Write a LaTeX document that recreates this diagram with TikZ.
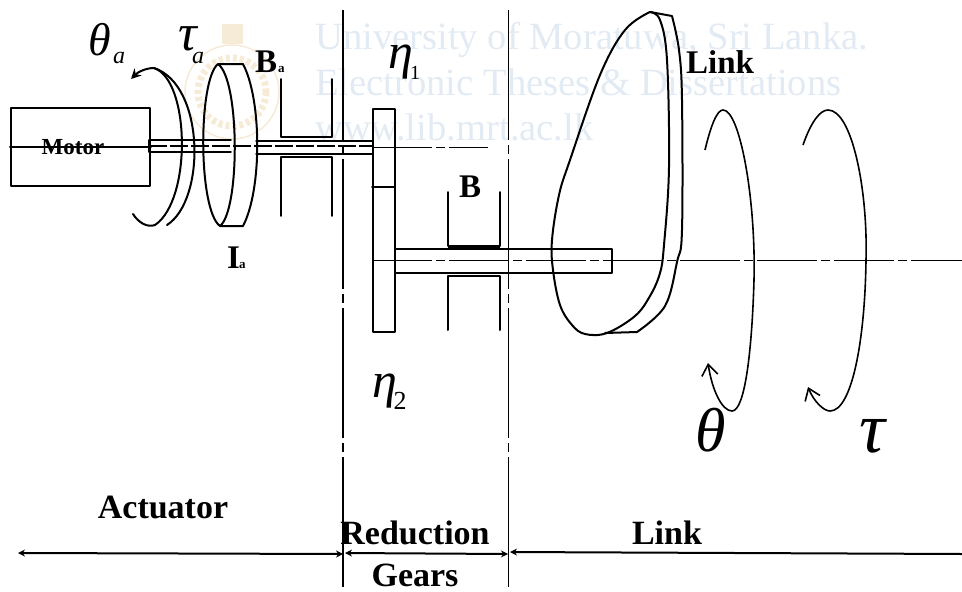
\documentclass[tikz,border=0pt]{standalone}
\usepackage{fontspec}
\setmainfont{Liberation Serif}
\usetikzlibrary{arrows.meta}
\definecolor{wm}{HTML}{E2EAF3}
\definecolor{logo}{HTML}{F6EBD6}
\tikzset{
  x=1pt,y=-1pt,
  ln/.style={black,line width=2pt,line cap=round,line join=round},
  cen/.style={black,line width=1pt,dash pattern=on 60pt off 4pt on 9pt off 4pt},
  divider/.style={black,line width=1.4pt,dash pattern=on 130pt off 5pt on 9pt off 5pt},
  span/.style={black,line width=2pt,{Stealth[length=7pt,width=7pt]}-{Stealth[length=7pt,width=7pt]}},
  turn/.style={black,line width=1.6pt,-{Straight Barb[length=11pt,width=16pt]}},
  mark text/.style={inner sep=0pt,anchor=base west},
  caption/.style={inner sep=0pt,anchor=base,font=\bfseries\fontsize{34}{34}\selectfont},
  wmtext/.style={inner sep=0pt,anchor=base west,text=wm,font=\fontsize{38.6}{39}\selectfont},
  sym/.style={inner sep=0pt,anchor=base}
}
\newcommand{\bigB}[1]{\bfseries\fontsize{#1}{#1}\selectfont}
\newcommand{\gr}[1]{\itshape\fontsize{#1}{#1}\selectfont}
\begin{document}
\begin{tikzpicture}
\useasboundingbox (0,0) rectangle (962,592);
% watermark
\draw[logo,line width=7pt,dash pattern=on 4pt off 3pt] (232,92) circle (34);
\draw[logo,line width=1.5pt] (232,92) circle (47);
\fill[logo] (222,24) rectangle (243,44);
\node[wmtext] (w1) at (315,49) {University of Moratuwa, Sri Lanka.};
\node[wmtext] (w2) at (315,95) {Electronic Theses \& Dissertations};
\node[wmtext] (w3) at (315,140) {www.lib.mrt.ac.lk};
% dividers
\coordinate (d1t) at (343,10); \coordinate (d1b) at (343,592);
\coordinate (d2t) at (508,10); \coordinate (d2b) at (508,592);
\draw[divider] (d1t) -- (d1b);
\draw[divider,line width=1pt] (d2t) -- (d2b);
% motor
\node[draw,ln,minimum width=139pt,minimum height=78pt,inner sep=0pt,anchor=north west] (motor) at (10,107) {};
\node[inner sep=0pt,font=\bfseries\fontsize{23}{23}\selectfont] (motorlabel) at (73,147) {Motor};
\draw[ln] (motor.west) -- (motor.east);
% motor shaft
\draw[ln,line width=1.5pt] (149,140) -- (231,140) (149,152) -- (231,152) (149,140) -- (149,152);
\draw[black,line width=1.5pt,dash pattern=on 18pt off 3pt] (149,146) -- (372,146);
% rotor disc
\draw[ln] (218,64) .. controls (198,80) and (198,210) .. (220,226)
          .. controls (240,210) and (240,80) .. (218,64);
\draw[ln] (218,64) -- (243,64) .. controls (262,100) and (262,190) .. (243,226) -- (220,226);
\node[mark text,font=\bigB{33}] (Ba) at (255,72) {B};
\node[mark text,font=\bigB{13}] (Basub) at (278,72) {a};
\node[mark text,font=\bigB{33}] (Ia) at (227,268) {I};
\node[mark text,font=\bigB{13}] (Iasub) at (239,268) {a};
% actuator turn arrows
\coordinate (ca) at (131,79);
\draw[ln,-{Stealth[length=10pt,width=10pt]}] (154,68) .. controls (146,68) and (138,72) .. (ca);
\draw[ln] (154,68) .. controls (190,80) and (192,200) .. (155,225) .. controls (147,228) and (138,222) .. (133,214);
\draw[ln] (154,68) .. controls (205,85) and (206,200) .. (167,225);
% first bearing
\draw[ln,line width=1.6pt] (281,79) -- (281,137) -- (332,137) -- (332,79);
\draw[ln,line width=1.6pt] (281,216) -- (281,157) -- (332,157) -- (332,216);
\draw[ln,line width=1.5pt] (256,141) -- (372,141) (256,154) -- (372,154);
% gear
\node[draw,ln,minimum width=22pt,minimum height=223pt,inner sep=0pt,anchor=north west] (gear) at (372,108) {};
\draw[ln] (372,187) -- (394,187);
\draw[cen] (372,147) -- (488,147);
% output shaft
\node[draw,ln,minimum width=217pt,minimum height=24pt,inner sep=0pt,anchor=north west] (shaft) at (394,248) {};
\draw[cen] (372,260) -- (962,260);
% bearing B
\draw[ln,line width=1.6pt] (448,192) -- (448,246) (500,192) -- (500,246);
\draw[black,line width=3pt] (448,246) -- (500,246);
\draw[ln] (448,330) -- (448,276) -- (500,276) -- (500,330);
\node[mark text,font=\bigB{33}] (Blabel) at (459,197) {B};
% link body
\draw[ln] plot[smooth,tension=.6] coordinates {(650,12) (625,30) (600,75) (570,160) (559,195) (552,240) (553,270) (560,305) (572,325) (585,334) (607,333) (635,316) (650,296) (660,273) (664,245) (669,167) (667,60) (660,20) (650,12)};
\draw[ln] (650,12) -- (672,16) plot[smooth,tension=.6] coordinates {(672,16) (679,50) (682,100) (682,230) (677,262) (665,306) (637,332)} -- (605,333);
\node[mark text,font=\bigB{33}] (linklabel) at (686,73) {Link};
% output turn arrows
\coordinate (t1) at (708,363);
\coordinate (t2) at (808,387);
\draw[turn] (705,150) .. controls (711,125) and (717,110) .. (723,110)
  .. controls (740,110) and (756,200) .. (754,280)
  .. controls (752,350) and (745,411) .. (732,411)
  .. controls (722,411) and (712,390) .. (t1);
\draw[turn] (803,145) .. controls (811,122) and (820,110) .. (828,110)
  .. controls (852,110) and (868,190) .. (866,260)
  .. controls (865,340) and (852,411) .. (830,411)
  .. controls (824,411) and (814,402) .. (t2);
% greek symbols
\node[sym,font=\gr{46}] (thetaa) at (100,55) {θ};
\node[sym,font=\gr{24}] (thetaasub) at (119,63) {a};
\node[sym,font=\gr{52}] (taua) at (188,50) {τ};
\node[sym,font=\gr{24}] (tauasub) at (198,63) {a};
\node[sym,font=\gr{50}] (eta1) at (401,68) {η};
\node[sym,font=\fontsize{20}{20}\selectfont] (eta1sub) at (415,79) {1};
\node[sym,font=\gr{50}] (eta2) at (385,397) {η};
\node[sym,font=\fontsize{26}{26}\selectfont] (eta2sub) at (400,409) {2};
\node[sym,font=\gr{62}] (theta) at (711,451) {θ};
\node[sym,font=\gr{72}] (tau) at (872,452) {τ};
% spans
\coordinate (s1) at (18,553); \coordinate (s2) at (343,554);
\coordinate (s3) at (345,553); \coordinate (s4) at (508,554);
\coordinate (s5) at (510,552); \coordinate (s6) at (962,554);
\draw[span] (s1) -- (s2);
\draw[span] (s3) -- (s4);
\draw[span,{Stealth[length=7pt,width=7pt]}-] (s5) -- (s6);
\node[caption] (act) at (163,518) {Actuator};
\node[caption] (red) at (415,544) {Reduction};
\node[caption] (gears) at (415,586) {Gears};
\node[caption] (lnk) at (667,544) {Link};
\end{tikzpicture}
\end{document}
